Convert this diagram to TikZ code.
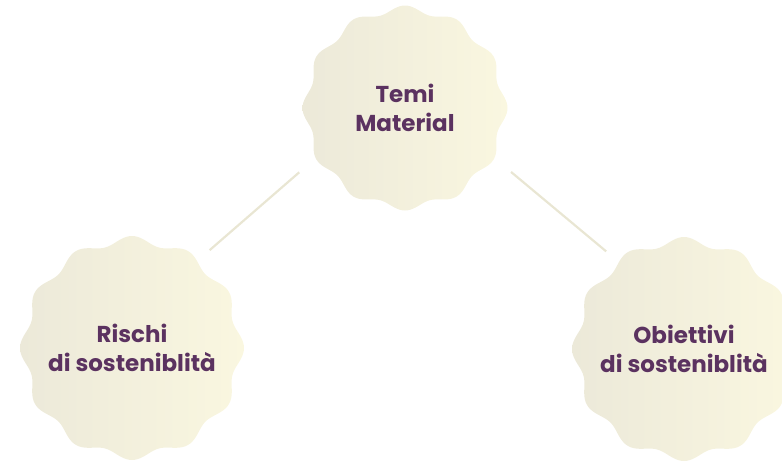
\documentclass[tikz,border=0pt]{standalone}
\usepackage{fontspec}
\setmainfont{Poppins}
\usepackage{tikz}
\usetikzlibrary{backgrounds}
\definecolor{sealleft}{RGB}{236,233,217}
\definecolor{sealright}{RGB}{250,247,224}
\definecolor{linkcol}{RGB}{233,230,211}
\definecolor{labelcol}{RGB}{91,50,96}

\begin{document}
\begin{tikzpicture}[
    x=1pt,y=-1pt,
    seal/.style={circle,inner sep=0pt,align=center,text=labelcol,
      font=\fontsize{23}{29}\selectfont\bfseries},
    lobes/.style={left color=sealleft,right color=sealright},
    link/.style={linkcol,line width=2.2pt,shorten <=24pt,shorten >=15pt}
    ]
    \clip (0,0) rectangle (782,463);
    \node[seal,minimum size=200pt] (temi) at (405,108) {Temi\\Material};
    \node[seal,minimum size=220pt] (rischi) at (132,348) {Rischi\\di sosteniblità};
    \node[seal,minimum size=220pt] (obiettivi) at (684,349) {Obiettivi\\di sosteniblità};
    \begin{scope}[on background layer]
      \shade[lobes,shift={(temi)}] plot[domain=0:360,samples=241,smooth] (\x:{99+3.5*cos(12*\x)}) -- cycle;
      \shade[lobes,shift={(rischi)}] plot[domain=0:360,samples=241,smooth] (\x:{108+4*cos(12*\x)}) -- cycle;
      \shade[lobes,shift={(obiettivi)}] plot[domain=0:360,samples=241,smooth] (\x:{108+4*cos(12*\x)}) -- cycle;
    \end{scope}
    \draw[link] (temi.209) -- (rischi.53);
    \draw[link] (temi.331) -- (obiettivi.127);
\end{tikzpicture}
\end{document}
